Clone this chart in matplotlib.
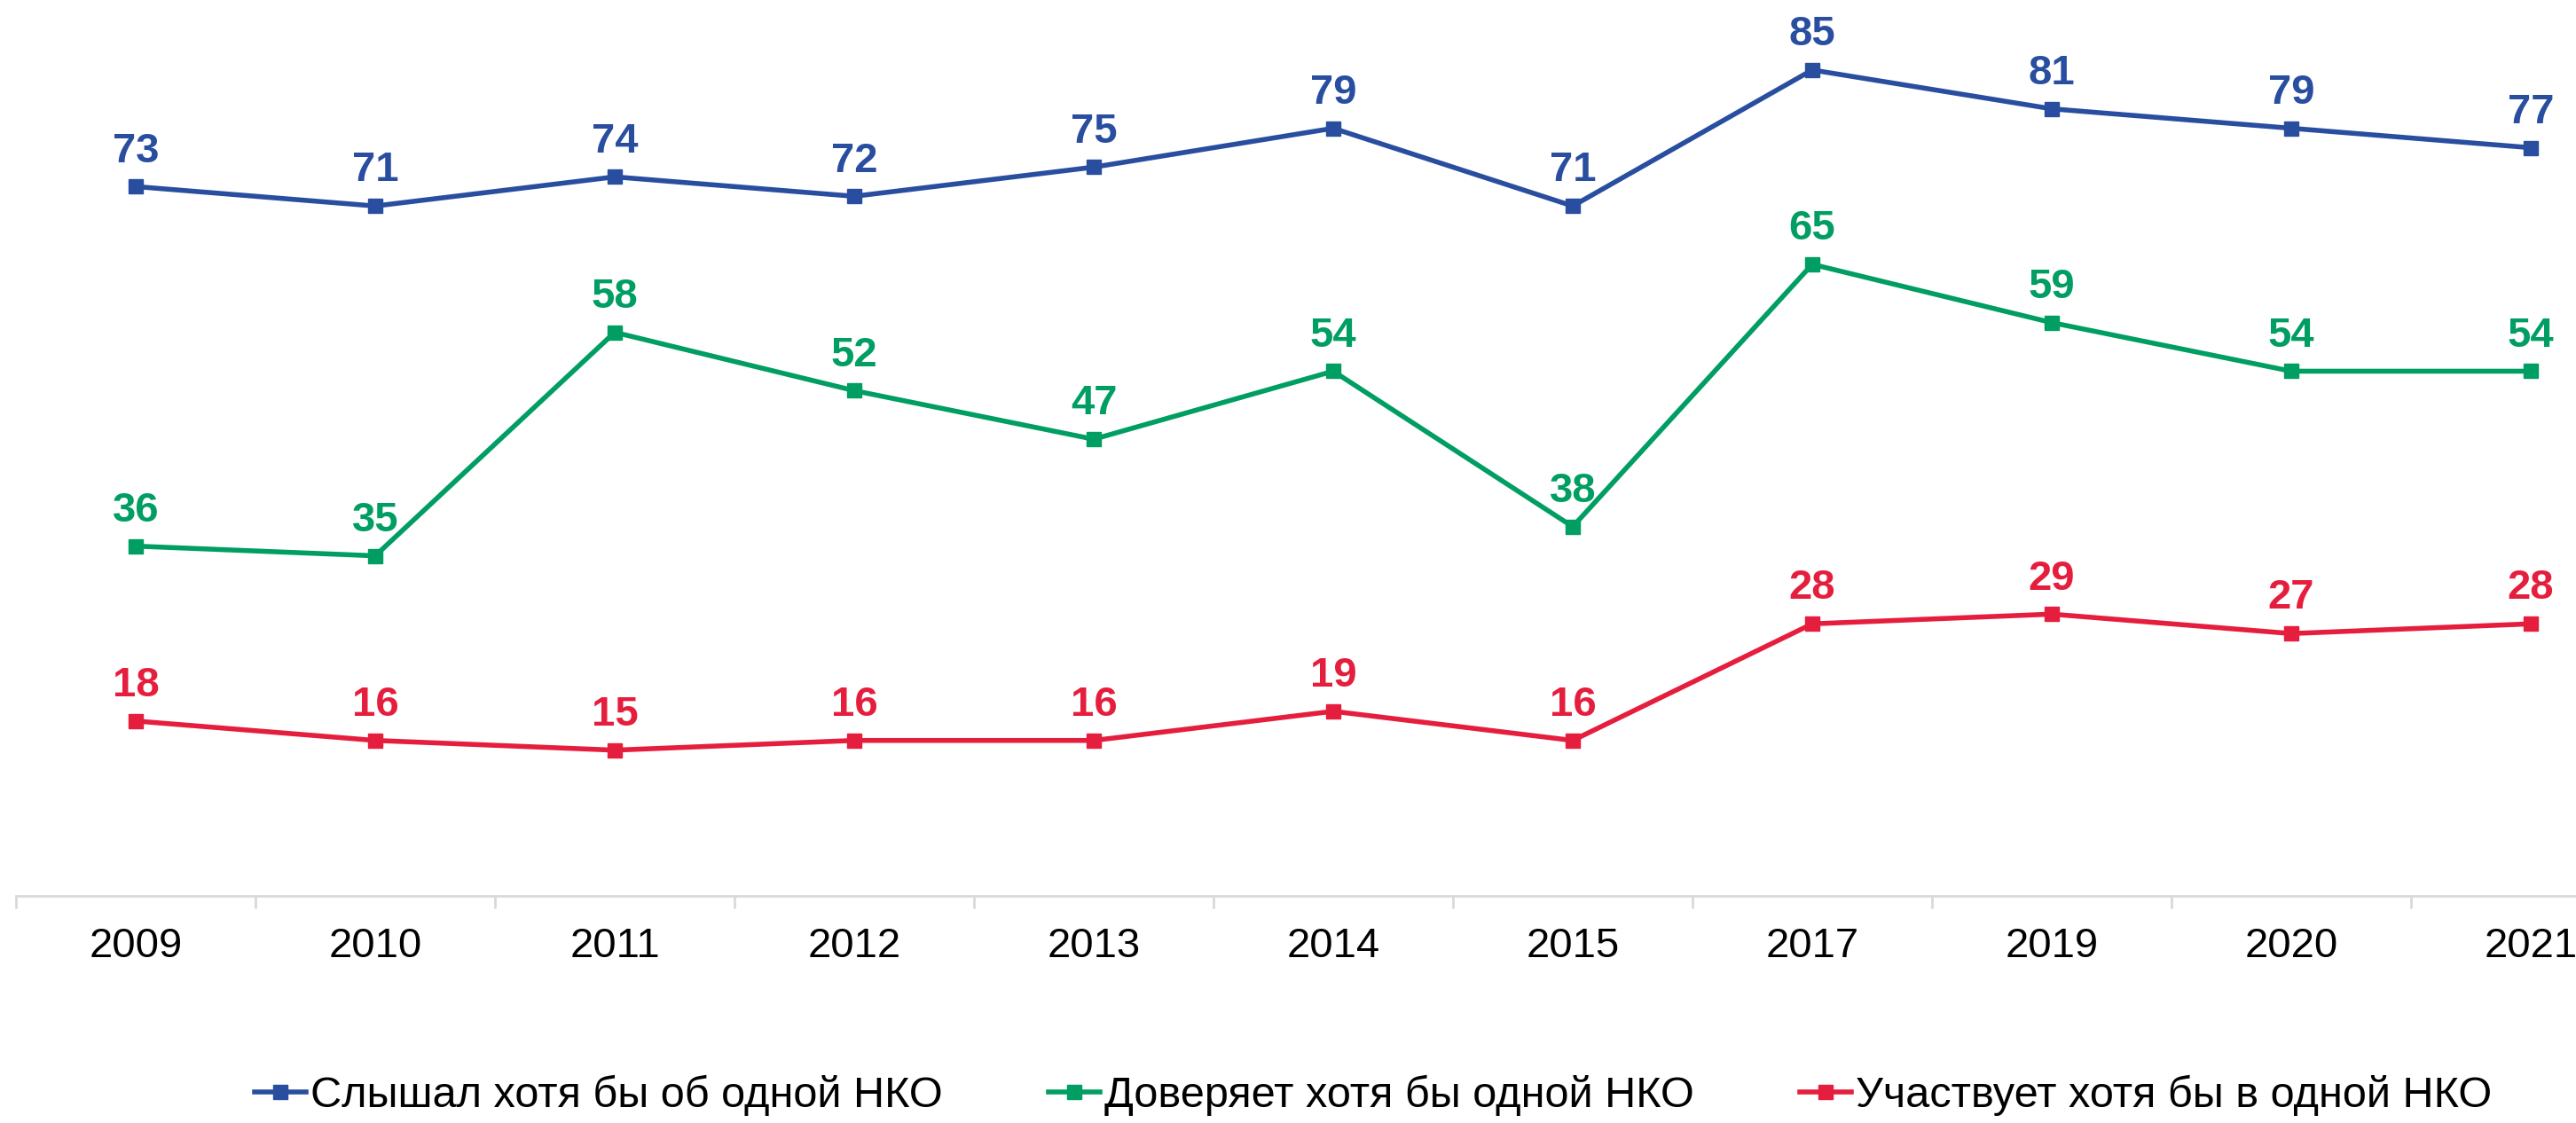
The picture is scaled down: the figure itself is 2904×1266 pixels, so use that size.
import matplotlib.pyplot as plt
from matplotlib.ticker import FixedLocator

plt.rcParams['font.family'] = ['Liberation Sans', 'DejaVu Sans']

years = ['2009', '2010', '2011', '2012', '2013', '2014', '2015', '2017', '2019', '2020', '2021']
heard = [73, 71, 74, 72, 75, 79, 71, 85, 81, 79, 77]
trust = [36, 35, 58, 52, 47, 54, 38, 65, 59, 54, 54]
takes_part = [18, 16, 15, 16, 16, 19, 16, 28, 29, 27, 28]

names = ['Слышал хотя бы об одной НКО', 'Доверяет хотя бы одной НКО', 'Участвует хотя бы в одной НКО']
colors = ['#2A4E9F', '#009E63', '#E61E3E']

fig = plt.figure(figsize=(29.04, 12.66), dpi=100)
ax = fig.add_axes([18 / 2904, 1 - 1010 / 1266, 1 - 18 / 2904, 1010 / 1266])

x = list(range(len(years)))
for vals, name, c in zip([heard, trust, takes_part], names, colors):
    ax.plot(x, vals, color=c, lw=4, marker='s', ms=11, label=name, clip_on=False)
    for xi, v in zip(x, vals):
        ax.annotate(str(v), (xi, v), xytext=(0, 20), textcoords='offset points',
                    ha='center', va='baseline', fontsize=34, fontweight='bold', color=c)

ax.set_xlim(-0.5, (2904 - 18) / 270 - 0.5)
ax.set_ylim(0, 92.2)
ax.set_xticks(x)
ax.set_xticklabels(years, fontsize=34)
ax.xaxis.set_minor_locator(FixedLocator([i - 0.5 for i in range(len(years) + 1)]))
ax.tick_params(axis='x', which='major', length=0, pad=25)
ax.tick_params(axis='x', which='minor', length=10, width=2, color='#D9D9D9')
ax.set_yticks([])
for s in ['top', 'right', 'left']:
    ax.spines[s].set_visible(False)
ax.spines['bottom'].set_color('#D9D9D9')
ax.spines['bottom'].set_linewidth(2)

fig.legend(loc='center', bbox_to_anchor=(0.533, 31 / 1266), ncol=3, frameon=False,
           fontsize=35, handlelength=1.2, handletextpad=0.1, columnspacing=2.45)

plt.savefig('out.png', dpi=100)
